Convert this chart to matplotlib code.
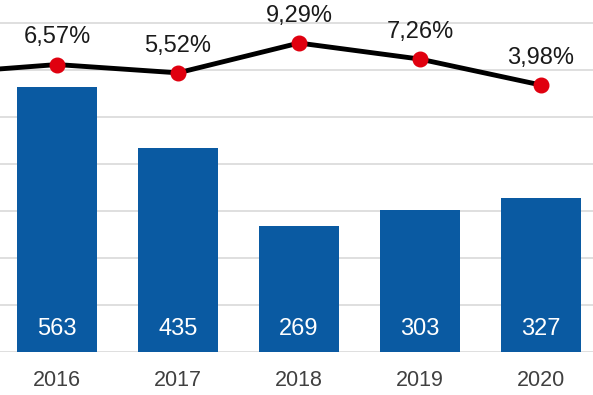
import matplotlib.pyplot as plt
import numpy as np

plt.rcParams['font.family'] = ['Liberation Sans', 'DejaVu Sans']

# data
years = ["2016", "2017", "2018", "2019", "2020"]
counts = [563, 435, 269, 303, 327]
pct = [6.57, 5.52, 9.29, 7.26, 3.98]
pct_2015 = 5.4  # previous year, point is cut off on the left

bar_color = "#0A5AA2"
dot_color = "#E0000F"

fig = plt.figure(figsize=(5.93, 3.95), dpi=100)
ax = fig.add_axes([0, 43 / 395, 1, 352 / 395])

x = np.arange(len(years))
ax.bar(x, counts, width=0.66, color=bar_color, zorder=2)
for xi, c in zip(x, counts):
    ax.text(xi, 48, str(c), ha="center", va="center", color="white", fontsize=17, zorder=3)

ax.set_xlim(-57 / 121, (593 - 57) / 121)
ax.set_ylim(0, 749)
ax.set_yticks(np.arange(0, 750, 100))
ax.yaxis.grid(True, color="#D9D9D9", linewidth=1.2, zorder=0)
ax.set_yticklabels([])
ax.tick_params(axis="y", length=0)
ax.set_xticks(x)
ax.set_xticklabels(years, fontsize=15.5, color="#404040")
ax.tick_params(axis="x", length=0, pad=13)
for s in ax.spines.values():
    s.set_visible(False)

# percentage line on its own scale
ax2 = ax.twinx()
lx = np.concatenate([[-1], x])
ly = [pct_2015] + pct
ax2.plot(lx, ly, color="black", linewidth=3.5, zorder=3, solid_capstyle="round")
ax2.plot(x, pct, "o", color=dot_color, markersize=10.5, zorder=4)
for xi, p in zip(x, pct):
    ax2.annotate(f"{p:.2f}%".replace(".", ","), (xi, p), xytext=(0, 19.5),
                 textcoords="offset points", ha="center", va="center",
                 fontsize=17, color="#1A1A1A")
ax2.set_ylim(-29.77, 14.73)
ax2.set_xlim(ax.get_xlim())
ax2.set_yticks([])
for s in ax2.spines.values():
    s.set_visible(False)

fig.savefig("out.png", dpi=100)
